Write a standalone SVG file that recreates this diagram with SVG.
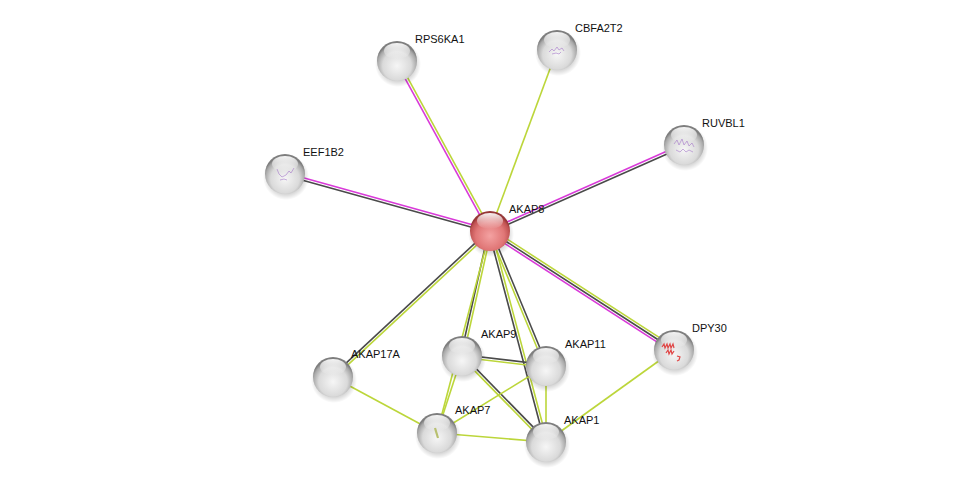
<svg xmlns="http://www.w3.org/2000/svg" width="976" height="487" viewBox="0 0 976 487">
<defs>
<radialGradient id="gs" cx="50%" cy="62%" r="55%">
<stop offset="0" stop-color="#f6f6f6"/>
<stop offset="0.65" stop-color="#dadada"/>
<stop offset="0.9" stop-color="#a8a8a8"/>
<stop offset="1" stop-color="#7e7e7e"/>
</radialGradient>
<radialGradient id="gr" cx="50%" cy="62%" r="55%">
<stop offset="0" stop-color="#f4a2a2"/>
<stop offset="0.65" stop-color="#e07676"/>
<stop offset="0.9" stop-color="#c05252"/>
<stop offset="1" stop-color="#963636"/>
</radialGradient>
<linearGradient id="hl" x1="0" y1="0" x2="0" y2="1">
<stop offset="0" stop-color="#ffffff" stop-opacity="0.95"/>
<stop offset="1" stop-color="#ffffff" stop-opacity="0"/>
</linearGradient>
<radialGradient id="sh" cx="50%" cy="50%" r="50%">
<stop offset="0.6" stop-color="#000" stop-opacity="0.25"/>
<stop offset="1" stop-color="#000" stop-opacity="0"/>
</radialGradient>
</defs>
<style>
.g{stroke:#bcd63a;stroke-width:1.6;fill:none}
.d{stroke:#4a4a4a;stroke-width:1.6;fill:none}
.m{stroke:#d93ad9;stroke-width:1.6;fill:none}
.lbl{font-family:"Liberation Sans",Arial,sans-serif;font-size:11px;fill:#111}
.sp{fill:url(#gs)}
.spr{fill:url(#gr)}
.hl{fill:url(#hl)}
.shd{fill:url(#sh)}
.sq{fill:none;stroke:#a070c8;stroke-width:0.8;opacity:0.7}
</style>
<rect width="976" height="487" fill="#ffffff"/>
<g id="edges">
<line class="m" x1="488.86" y1="231.62" x2="395.86" y2="61.62"/>
<line class="g" x1="491.14" y1="230.38" x2="398.14" y2="60.38"/>
<line class="g" x1="490" y1="231" x2="557" y2="50"/>
<line class="m" x1="489.47" y1="229.81" x2="683.47" y2="143.81"/>
<line class="d" x1="490.53" y1="232.19" x2="684.53" y2="146.19"/>
<line class="m" x1="490.35" y1="229.75" x2="285.35" y2="172.75"/>
<line class="d" x1="489.65" y1="232.25" x2="284.65" y2="175.25"/>
<line class="g" x1="491.36" y1="228.9" x2="675.36" y2="347.9"/>
<line class="d" x1="490" y1="231" x2="674" y2="350"/>
<line class="m" x1="488.64" y1="233.1" x2="672.64" y2="352.1"/>
<line class="d" x1="489.1" y1="230.05" x2="332.1" y2="376.05"/>
<line class="g" x1="490.9" y1="231.95" x2="333.9" y2="377.95"/>
<line class="d" x1="488.73" y1="230.72" x2="460.73" y2="355.72"/>
<line class="g" x1="491.27" y1="231.28" x2="463.27" y2="356.28"/>
<line class="g" x1="490" y1="231" x2="437" y2="433"/>
<line class="g" x1="488.8" y1="231.5" x2="544.8" y2="366.5"/>
<line class="d" x1="491.2" y1="230.5" x2="547.2" y2="365.5"/>
<line class="d" x1="488.74" y1="231.33" x2="544.74" y2="442.33"/>
<line class="g" x1="491.26" y1="230.67" x2="547.26" y2="441.67"/>
<line class="d" x1="462.15" y1="354.71" x2="546.15" y2="364.71"/>
<line class="g" x1="461.85" y1="357.29" x2="545.85" y2="367.29"/>
<line class="d" x1="462.93" y1="355.09" x2="546.93" y2="441.09"/>
<line class="g" x1="461.07" y1="356.91" x2="545.07" y2="442.91"/>
<line class="g" x1="462" y1="356" x2="437" y2="433"/>
<line class="g" x1="546" y1="366" x2="437" y2="433"/>
<line class="g" x1="546" y1="366" x2="546" y2="442"/>
<line class="g" x1="437" y1="433" x2="546" y2="442"/>
<line class="g" x1="333" y1="377" x2="437" y2="433"/>
<line class="g" x1="674" y1="350" x2="546" y2="442"/>
</g>
<g id="node-AKAP8">
<circle class="shd" cx="491" cy="234" r="23"/>
<circle class="spr" cx="490" cy="231" r="20"/>
<ellipse class="hl" cx="490" cy="221" rx="13" ry="8"/>
<text class="lbl" x="509" y="213">AKAP8</text>
</g>
<g id="node-RPS6KA1">
<circle class="shd" cx="398" cy="64" r="23"/>
<circle class="sp" cx="397" cy="61" r="20"/>
<ellipse class="hl" cx="397" cy="51" rx="13" ry="8"/>
<text class="lbl" x="415" y="43">RPS6KA1</text>
</g>
<g id="node-CBFA2T2">
<circle class="shd" cx="558" cy="53" r="23"/>
<circle class="sp" cx="557" cy="50" r="20"/>
<ellipse class="hl" cx="557" cy="40" rx="13" ry="8"/>
<path class="sq" d="M549 52 l3 -3 l2 2 l3 -4 l2 3 l3 -2 l2 3 M552 54 l4 -1 l3 1 l2 -2"/>
<text class="lbl" x="575" y="32">CBFA2T2</text>
</g>
<g id="node-RUVBL1">
<circle class="shd" cx="685" cy="148" r="23"/>
<circle class="sp" cx="684" cy="145" r="20"/>
<ellipse class="hl" cx="684" cy="135" rx="13" ry="8"/>
<path class="sq" d="M674 144 l3 -4 l2 5 l3 -6 l2 6 l3 -4 l2 5 l3 -3 l2 4 M676 150 l4 2 l3 -3 l3 3 l3 -2 l4 2"/>
<text class="lbl" x="702" y="127">RUVBL1</text>
</g>
<g id="node-EEF1B2">
<circle class="shd" cx="286" cy="177" r="23"/>
<circle class="sp" cx="285" cy="174" r="20"/>
<ellipse class="hl" cx="285" cy="164" rx="13" ry="8"/>
<path class="sq" d="M277 169 l2 5 l3 3 l4 -2 l3 -4 l2 2 l3 -5 M280 180 l4 -1 l3 1"/>
<text class="lbl" x="303" y="156">EEF1B2</text>
</g>
<g id="node-DPY30">
<circle class="shd" cx="675" cy="353" r="23"/>
<circle class="sp" cx="674" cy="350" r="20"/>
<ellipse class="hl" cx="674" cy="340" rx="13" ry="8"/>
<path d="M662 347 l2 -3 l1 4 l2 -4 l1 4 l2 -4 l1 4 l2 -4 l1 4 M666 353 l2 -3 l1 4 l2 -4 l1 4 l2 -3 M677 356 l3 1 l-1 3 l-2 1" fill="none" stroke="#e04848" stroke-width="1.2"/>
<text class="lbl" x="692" y="332">DPY30</text>
</g>
<g id="node-AKAP17A">
<circle class="shd" cx="334" cy="380" r="23"/>
<circle class="sp" cx="333" cy="377" r="20"/>
<ellipse class="hl" cx="333" cy="367" rx="13" ry="8"/>
<text class="lbl" x="351" y="358">AKAP17A</text>
</g>
<g id="node-AKAP9">
<circle class="shd" cx="463" cy="359" r="23"/>
<circle class="sp" cx="462" cy="356" r="20"/>
<ellipse class="hl" cx="462" cy="346" rx="13" ry="8"/>
<text class="lbl" x="481" y="338">AKAP9</text>
</g>
<g id="node-AKAP11">
<circle class="shd" cx="547" cy="369" r="23"/>
<circle class="sp" cx="546" cy="366" r="20"/>
<ellipse class="hl" cx="546" cy="356" rx="13" ry="8"/>
<text class="lbl" x="565" y="348">AKAP11</text>
</g>
<g id="node-AKAP7">
<circle class="shd" cx="438" cy="436" r="23"/>
<circle class="sp" cx="437" cy="433" r="20"/>
<ellipse class="hl" cx="437" cy="423" rx="13" ry="8"/>
<path d="M435 428 l3 10" fill="none" stroke="#b8c070" stroke-width="2.2"/>
<text class="lbl" x="455" y="414">AKAP7</text>
</g>
<g id="node-AKAP1">
<circle class="shd" cx="547" cy="445" r="23"/>
<circle class="sp" cx="546" cy="442" r="20"/>
<ellipse class="hl" cx="546" cy="432" rx="13" ry="8"/>
<text class="lbl" x="564" y="424">AKAP1</text>
</g>
</svg>
